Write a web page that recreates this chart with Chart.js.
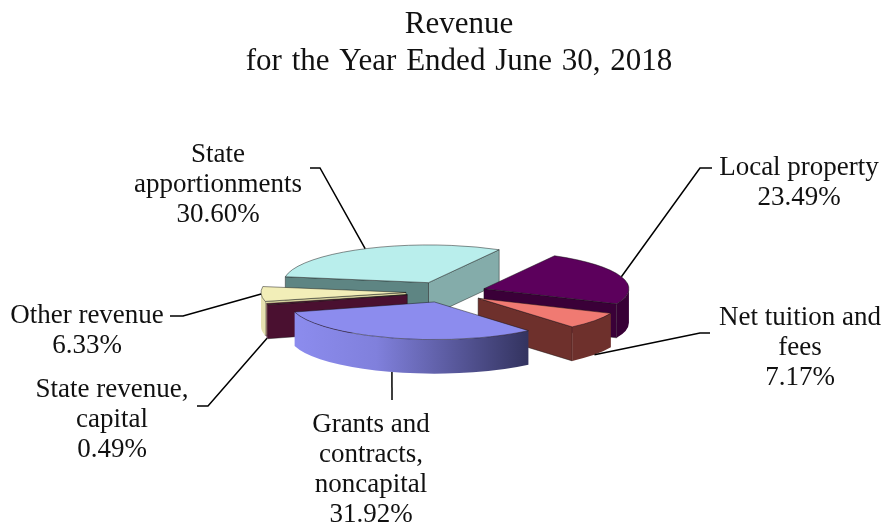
<!DOCTYPE html>
<html>
<head>
<meta charset="utf-8">
<title>Revenue</title>
<script src="https://cdn.jsdelivr.net/npm/chart.js@4/dist/chart.umd.min.js"></script>
<style>
  html, body { margin: 0; background: #fff; }
  canvas { display: block; }
</style>
</head>
<body>
<canvas id="chart" width="884" height="525"></canvas>
<script>
// Data
const categories = ['State apportionments', 'Local property', 'Net tuition and fees',
    'Grants and contracts, noncapital', 'State revenue, capital', 'Other revenue'];
const shares = [30.60, 23.49, 7.17, 31.92, 0.49, 6.33];
const labelLines = [
    ['State', 'apportionments', '30.60%'],
    ['Local property', '23.49%'],
    ['Net tuition and', 'fees', '7.17%'],
    ['Grants and', 'contracts,', 'noncapital', '31.92%'],
    ['State revenue,', 'capital', '0.49%'],
    ['Other revenue', '6.33%'],
];
const titleLines = ['Revenue', 'for the Year Ended June 30, 2018'];

// Colours per slice: top, first cut face, second cut face, outer wall
const topColors = ['#b9eeec', '#5c005c', '#f07a72', '#8c8cee', '#5a1238', '#f2eeb8'];
const startFaceColors = ['#5e8583', '#3a0038', '#6e302c', '#3c3c78', '#4a1030', '#d8d4a0'];
const endFaceColors = ['#84acaa', '#3a0038', '#6e302c', '#3c3c78', '#4a1030', '#d8d4a0'];
const wallColors = ['#6f9c9a', '#380036', '#6e302c', null, '#4a1030', '#e6e2b0'];

// 3D look
const SQUASH = 0.26;
const DEPTH = 34;
const EXPLODE = 40;
const drawOrder = [0, 5, 4, 1, 2, 3];

// Label placement: text centre x, first baseline y, then leader elbow and end
const labelPos = [[218, 162], [799, 175], [800, 325], [371, 432], [112, 397], [87, 323]];
const leaderPos = [
    [[320, 168], [310, 168]],
    [[700, 168], [712, 168]],
    [[700, 333], [710, 333]],
    [[392, 400]],
    [[208, 406], [197, 406]],
    [[183, 316], [170, 316]],
];
const leaderOnBase = [false, false, true, true, true, false];
const LINE_H = 30;
const TITLE_POS = [459, 33];
const TITLE_LINE_H = 37;

function sliceCentre(arc) {
    const mid = (arc.startAngle + arc.endAngle) / 2;
    return {
        x: arc.x + Math.cos(mid) * EXPLODE,
        y: arc.y + Math.sin(mid) * EXPLODE * SQUASH,
    };
}

// Point on the slice rim in screen space
function rim(arc, angle, down) {
    const c = sliceCentre(arc);
    return {
        x: c.x + Math.cos(angle) * arc.outerRadius,
        y: c.y + Math.sin(angle) * arc.outerRadius * SQUASH + (down || 0),
    };
}

function drawFace(ctx, arc, angle, color) {
    const c = sliceCentre(arc);
    const p = rim(arc, angle);
    ctx.beginPath();
    ctx.moveTo(c.x, c.y);
    ctx.lineTo(p.x, p.y);
    ctx.lineTo(p.x, p.y + DEPTH);
    ctx.lineTo(c.x, c.y + DEPTH);
    ctx.closePath();
    ctx.fillStyle = color;
    ctx.fill();
    ctx.strokeStyle = 'rgba(20,20,20,0.55)';
    ctx.lineWidth = 0.8;
    ctx.stroke();
}

function drawWall(ctx, arc, color) {
    const c = sliceCentre(arc);
    const r = arc.outerRadius;
    const TAU = Math.PI * 2;
    for (let k = 0; k < 2; k++) {
        const a1 = Math.max(arc.startAngle, k * TAU);
        const a2 = Math.min(arc.endAngle, k * TAU + Math.PI);
        if (a2 <= a1) continue;
        ctx.beginPath();
        ctx.ellipse(c.x, c.y, r, r * SQUASH, 0, a1, a2);
        ctx.ellipse(c.x, c.y + DEPTH, r, r * SQUASH, 0, a2, a1, true);
        ctx.closePath();
        let fill = color;
        if (!fill) {
            // Grants wall fades from light on the left to dark on the right
            const left = rim(arc, a2).x;
            const right = rim(arc, a1).x;
            fill = ctx.createLinearGradient(left, 0, right, 0);
            fill.addColorStop(0, '#8c8cee');
            fill.addColorStop(0.35, '#8080dc');
            fill.addColorStop(1, '#33335f');
        }
        ctx.fillStyle = fill;
        ctx.fill();
    }
}

function drawTop(ctx, arc) {
    const c = sliceCentre(arc);
    ctx.save();
    // arc.draw works in chart space, so shift and flatten the canvas first
    ctx.translate(c.x, c.y);
    ctx.scale(1, SQUASH);
    ctx.translate(-arc.x, -arc.y);
    arc.draw(ctx);
    ctx.beginPath();
    ctx.moveTo(arc.x, arc.y);
    ctx.arc(arc.x, arc.y, arc.outerRadius, arc.startAngle, arc.endAngle);
    ctx.closePath();
    ctx.restore();
    ctx.strokeStyle = 'rgba(20,20,20,0.6)';
    ctx.lineWidth = 0.8;
    ctx.stroke();
}

const pie3d = {
    id: 'pie3d',
    beforeDatasetDraw(chart) {
        const ctx = chart.ctx;
        const arcs = chart.getDatasetMeta(0).data;
        drawOrder.forEach(i => {
            const arc = arcs[i];
            // only walls that look towards the viewer
            if (-Math.cos(arc.startAngle) > 0) drawFace(ctx, arc, arc.startAngle, startFaceColors[i]);
            if (Math.cos(arc.endAngle) > 0) drawFace(ctx, arc, arc.endAngle, endFaceColors[i]);
            drawWall(ctx, arc, wallColors[i]);
            drawTop(ctx, arc);
        });
        return false;
    },
    afterDraw(chart) {
        const ctx = chart.ctx;
        const arcs = chart.getDatasetMeta(0).data;
        ctx.save();
        ctx.strokeStyle = '#000';
        ctx.lineWidth = 1.5;
        ctx.fillStyle = '#111';
        ctx.textAlign = 'center';
        // title sits right of the pie centre, the title plugin can't do that
        ctx.font = '31px "Liberation Serif"';
        ctx.wordSpacing = '2px';
        titleLines.forEach((line, n) => {
            ctx.fillText(line, TITLE_POS[0], TITLE_POS[1] + n * TITLE_LINE_H);
        });
        ctx.wordSpacing = '0px';
        ctx.font = '27px "Liberation Serif"';
        arcs.forEach((arc, i) => {
            const mid = (arc.startAngle + arc.endAngle) / 2;
            const from = rim(arc, mid, leaderOnBase[i] ? DEPTH : 0);
            ctx.beginPath();
            ctx.moveTo(from.x, from.y);
            leaderPos[i].forEach(p => ctx.lineTo(p[0], p[1]));
            ctx.stroke();
            labelLines[i].forEach((line, n) => {
                ctx.fillText(line, labelPos[i][0], labelPos[i][1] + n * LINE_H);
            });
        });
        ctx.restore();
    },
};

new Chart(document.getElementById('chart'), {
    type: 'pie',
    data: {
        labels: categories,
        datasets: [{
            data: shares,
            backgroundColor: topColors,
            borderWidth: 0,
            clip: false,
        }],
    },
    options: {
        responsive: false,
        animation: false,
        rotation: 279,
        radius: 145,
        layout: { padding: { left: 8, top: 59 } },
        plugins: {
            legend: { display: false },
            tooltip: { enabled: false },
            title: { display: false },
        },
    },
    plugins: [pie3d],
});
</script>
</body>
</html>
